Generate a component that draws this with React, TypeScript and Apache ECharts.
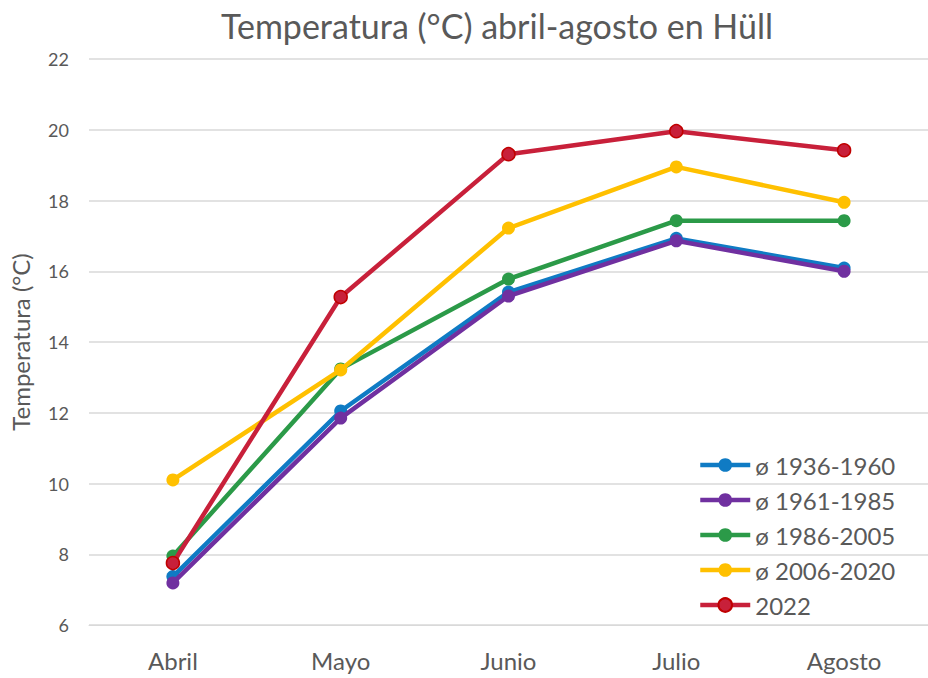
import React, { useEffect, useRef } from "react";
import * as echarts from "echarts";

const categories = ["Abril", "Mayo", "Junio", "Julio", "Agosto"];
const seriesNames = ["ø 1936-1960", "ø 1961-1985", "ø 1986-2005", "ø 2006-2020", "2022"];
const v1936 = [7.37, 12.05, 15.41, 16.93, 16.09];
const v1961 = [7.19, 11.85, 15.3, 16.86, 16.0];
const v1986 = [7.95, 13.24, 15.78, 17.43, 17.43];
const v2006 = [10.1, 13.21, 17.22, 18.95, 17.95];
const v2022 = [7.75, 15.27, 19.31, 19.96, 19.42];
const yTicks = [6, 8, 10, 12, 14, 16, 18, 20, 22];

const colors = ["#0F7BC4", "#7030A0", "#2B9A48", "#FFC000", "#C8203A"];
const borders = ["#0F7BC4", "#7030A0", "#2B9A48", "#FFC000", "#C00000"];
const FONT = "Lato";

export default function App() {
  const ref = useRef<HTMLDivElement>(null);
  useEffect(() => {
    if (!ref.current) return;
    const chart = echarts.init(ref.current, undefined, { renderer: "svg" });
    const data = [v1936, v1961, v1986, v2006, v2022];
    chart.setOption({
      animation: false,
      backgroundColor: "#ffffff",
      title: {
        text: "Temperatura (°C) abril-agosto en Hüll",
        left: 492,
        textAlign: "center",
        top: 3,
        textStyle: { fontFamily: FONT, fontSize: 34, fontWeight: "normal", color: "#595959" },
      },
      grid: { left: 88, top: 59, width: 848, height: 566, containLabel: false },
      legend: {
        orient: "vertical",
        left: 698,
        top: 453,
        padding: 0,
        itemWidth: 50,
        itemHeight: 17,
        itemGap: 11,
        lineStyle: { width: 4.5 },
        textStyle: { fontFamily: FONT, fontSize: 24, lineHeight: 20, color: "#595959" },
        data: seriesNames,
      },
      xAxis: {
        type: "category",
        data: categories,
        boundaryGap: true,
        axisLine: { show: true, lineStyle: { color: "#d9d9d9", width: 1 } },
        axisTick: { show: false },
        axisLabel: { fontFamily: FONT, fontSize: 24, color: "#595959", margin: 23 },
      },
      yAxis: {
        type: "value",
        min: yTicks[0],
        max: yTicks[yTicks.length - 1],
        interval: 2,
        name: "Temperatura (°C)",
        nameLocation: "middle",
        nameGap: 57,
        nameRotate: 90,
        nameTextStyle: { fontFamily: FONT, fontSize: 24, color: "#595959" },
        axisLine: { show: false },
        axisTick: { show: false },
        splitLine: { lineStyle: { color: "#d9d9d9", width: 1.5 } },
        axisLabel: { fontFamily: FONT, fontSize: 18, color: "#595959", margin: 20 },
      },
      series: seriesNames.map((name, i) => ({
        name,
        type: "line",
        data: data[i],
        symbol: "circle",
        symbolSize: 13,
        z: 2 + i,
        lineStyle: { color: colors[i], width: 4.5 },
        itemStyle: { color: colors[i], borderColor: borders[i], borderWidth: i === 4 ? 1.5 : 0 },
      })),
    });
    return () => chart.dispose();
  }, []);
  return <div ref={ref} style={{ width: 928, height: 678, position: "absolute", left: 0, top: 0 }} />;
}
